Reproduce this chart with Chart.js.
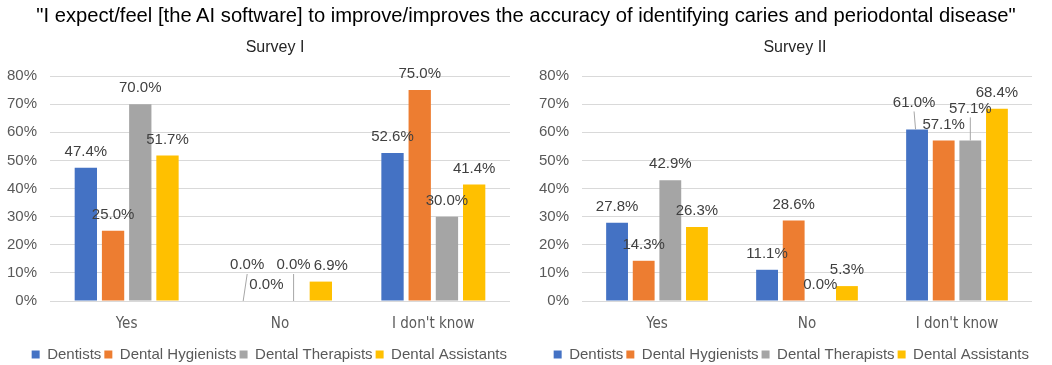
<!DOCTYPE html>
<html>
<head>
<meta charset="utf-8">
<script src="https://cdn.jsdelivr.net/npm/chart.js@4.4.1/dist/chart.umd.min.js"></script>
<style>
  body { margin:0; background:#fff; width:1052px; height:365px; position:relative; overflow:hidden; }
  #titulo { position:absolute; left:0; top:4px; width:1052px; text-align:center; z-index:2;
            font:20.2px "Liberation Sans", Arial, sans-serif; color:#000; white-space:nowrap; }
  .sub { position:absolute; top:38px; width:200px; text-align:center; z-index:2;
         font:16px "Liberation Sans", Arial, sans-serif; color:#262626; }
  #sub1 { left:175px; }
  #sub2 { left:695px; }
  .caja { position:absolute; top:0; height:372px; }
  #caja1 { left:0; width:522px; }
  #caja2 { left:522px; width:530px; }
</style>
</head>
<body>
<div id="titulo">"I expect/feel [the AI software] to improve/improves the accuracy of identifying caries and periodontal disease"</div>
<div class="sub" id="sub1">Survey I</div>
<div class="sub" id="sub2">Survey II</div>
<div class="caja" id="caja1"><canvas id="grafico1"></canvas></div>
<div class="caja" id="caja2"><canvas id="grafico2"></canvas></div>
<script>
// datos
const categorias = ["Yes", "No", "I don't know"];
const grupos = ["Dentists", "Dental Hygienists", "Dental Therapists", "Dental Assistants"];
const colores = ["#4472C4", "#ED7D31", "#A5A5A5", "#FFC000"];

const s1Dentists = [47.4, 0.0, 52.6];
const s1Hygienists = [25.0, 0.0, 75.0];
const s1Therapists = [70.0, 0.0, 30.0];
const s1Assistants = [51.7, 6.9, 41.4];

const s2Dentists = [27.8, 11.1, 61.0];
const s2Hygienists = [14.3, 28.6, 57.1];
const s2Therapists = [42.9, 0.0, 57.1];
const s2Assistants = [26.3, 5.3, 68.4];

const yMax = 80;
const yPaso = 10;

const narrow = '"Liberation Sans Narrow", "DejaVu Sans Condensed", sans-serif';
const arial = '"Liberation Sans", Arial, sans-serif';

// etiquetas de valor encima de cada barra, algunas movidas como en el original
const etiquetas = {
  id: 'etiquetas',
  afterDatasetsDraw(chart, args, opts) {
    const ctx = chart.ctx;
    const mover = opts.mover || {};
    ctx.save();
    ctx.font = '15px ' + arial;
    ctx.textAlign = 'center';
    ctx.textBaseline = 'middle';
    chart.data.datasets.forEach((ds, i) => {
      chart.getDatasetMeta(i).data.forEach((bar, j) => {
        const m = mover[i + '-' + j] || [0, 0];
        const x = bar.x + m[0];
        const y = bar.y - 16 + m[1];
        if (m[1] < 0) {
          ctx.strokeStyle = '#A6A6A6';
          ctx.lineWidth = 1;
          ctx.beginPath();
          ctx.moveTo(x, y + 9);
          ctx.lineTo(bar.x + m[0] / 2, bar.y);
          ctx.stroke();
        }
        ctx.fillStyle = '#404040';
        ctx.fillText(ds.data[j].toFixed(1) + '%', x, y);
      });
    });
    ctx.restore();
  }
};

function hacerGrafico(id, series, padDer, anchoY, mover) {
  const ctx = document.getElementById(id).getContext('2d');
  return new Chart(ctx, {
    type: 'bar',
    data: {
      labels: categorias,
      datasets: grupos.map((g, i) => ({
        label: g,
        data: series[i],
        backgroundColor: colores[i],
        borderWidth: 0,
        categoryPercentage: 0.71,
        barPercentage: 0.82
      }))
    },
    options: {
      responsive: true,
      maintainAspectRatio: false,
      animation: false,
      layout: { padding: { left: 0, right: padDer, top: 76, bottom: 0 } },
      plugins: {
        title: { display: false },
        legend: {
          position: 'bottom',
          align: 'end',
          labels: {
            boxWidth: 8,
            boxHeight: 8,
            padding: 3,
            color: '#595959',
            font: { family: arial, size: 15 }
          }
        },
        tooltip: { enabled: false },
        etiquetas: { mover: mover }
      },
      scales: {
        x: {
          grid: { display: false },
          border: { display: false },
          ticks: { color: '#595959', padding: 6, font: { family: narrow, size: 15 } },
          afterFit(s) { s.height = 43; }
        },
        y: {
          min: 0,
          max: yMax,
          grid: { color: '#D9D9D9', drawTicks: false },
          border: { display: false },
          ticks: {
            stepSize: yPaso,
            padding: 13,
            color: '#595959',
            font: { family: arial, size: 15 },
            callback: v => v + '%'
          },
          afterFit(s) { s.width = anchoY; }
        }
      }
    },
    plugins: [etiquetas]
  });
}

hacerGrafico('grafico1',
  [s1Dentists, s1Hygienists, s1Therapists, s1Assistants], 12, 50,
  { '0-1': [8, -20], '2-1': [0, -20], '3-1': [10, 0] });

hacerGrafico('grafico2',
  [s2Dentists, s2Hygienists, s2Therapists, s2Assistants], 20, 60,
  { '0-2': [-3, -11], '2-2': [0, -16] });
</script>
</body>
</html>
